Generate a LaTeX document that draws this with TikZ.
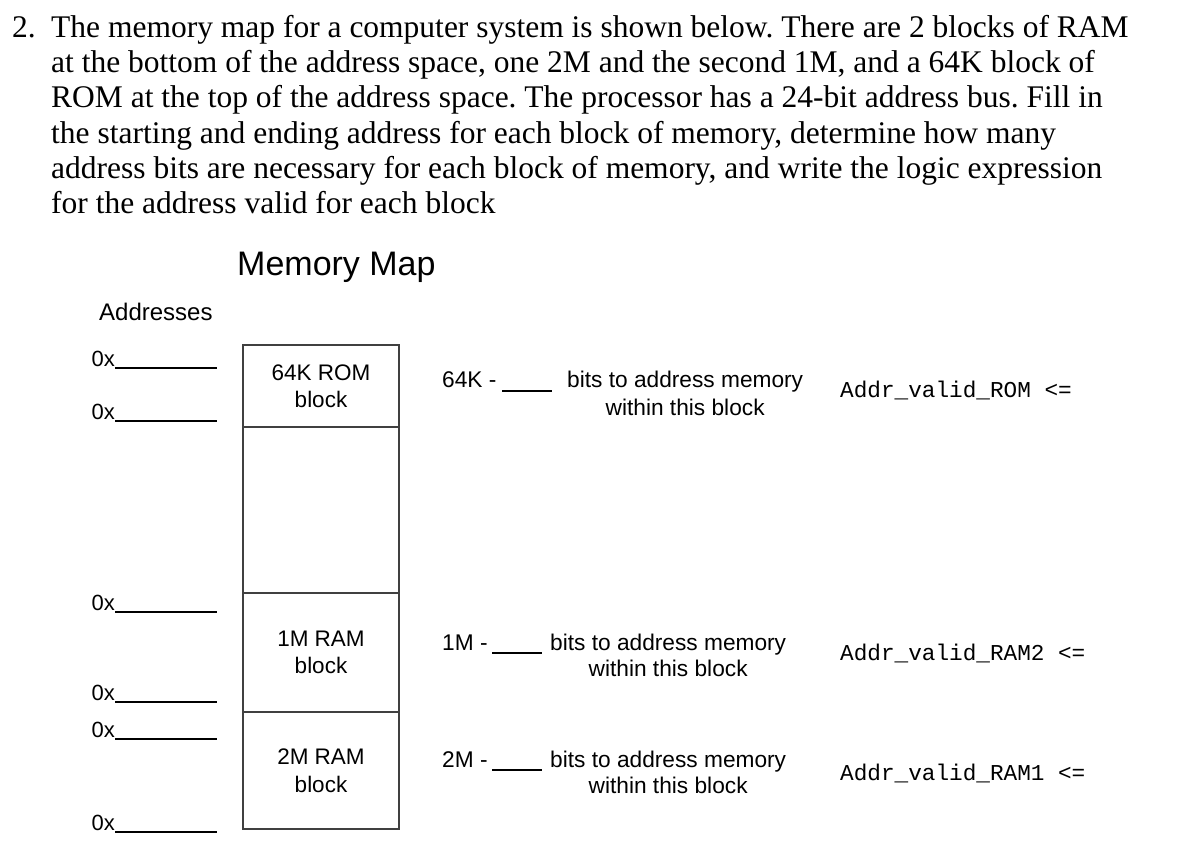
\documentclass[tikz,border=0pt]{standalone}
\usepackage{fontspec}
\setmainfont{Liberation Serif}
\newfontfamily\arialfont{Liberation Sans}
\setmonofont{Liberation Mono}
\usetikzlibrary{positioning}
\tikzset{blk/.style = {draw = black!75, line width = 1.5pt, outer sep = 0, minimum width = 156pt, inner sep = 0, align = center, font = \arialfont\fontsize{22.5}{27.5}\selectfont}}
\tikzset{addr/.style = {anchor = base east, inner sep = 0, font = \arialfont\fontsize{22}{24}\selectfont}}
\tikzset{note/.style = {anchor = base west, inner sep = 0, font = \arialfont\fontsize{22.7}{27}\selectfont}}
\tikzset{code/.style = {anchor = base west, inner sep = 0, font = \ttfamily\fontsize{22.7}{24}\selectfont}}
\tikzset{blank/.style = {line width = 1.3pt}}

\begin{document}
\frenchspacing
\begin{tikzpicture}[x = 1pt, y = -1pt]
      \useasboundingbox (0, 0) rectangle (1181, 865);

      \node[anchor = base west, inner sep = 0, font = \fontsize{31.5}{35.3}\selectfont] (num) at (12, 37) {2.};
      \node[anchor = north west, inner sep = 0, align = left, font = \fontsize{31.5}{35.3}\selectfont] (task) at (51, 15)
        {The memory map for a computer system is shown below. There are 2 blocks of RAM\\
         at the bottom of the address space, one 2M and the second 1M, and a 64K block of\\
         ROM at the top of the address space. The processor has a 24-bit address bus. Fill in\\
         the starting and ending address for each block of memory, determine how many\\
         address bits are necessary for each block of memory, and write the logic expression\\
         for the address valid for each block};

      \node[anchor = base west, inner sep = 0, font = \arialfont\fontsize{34}{36}\selectfont] (title) at (237, 275) {Memory Map};
      \node[anchor = base west, inner sep = 0, font = \arialfont\fontsize{24}{26}\selectfont] (addrs) at (99, 320) {Addresses};

      % memory blocks
      \node[blk, minimum height = 82pt, anchor = north west] (rom) at (243, 345) {64K ROM\\block};
      \node[blk, minimum height = 166pt, below = 0pt of rom] (free) {};
      \node[blk, minimum height = 119pt, below = 0pt of free] (ramtwo) {1M RAM\\block};
      \node[blk, minimum height = 117pt, below = 0pt of ramtwo] (ramone) {2M RAM\\block};

      % address blanks
      \node[addr] (a1) at (115, 366) {0x};
      \node[addr] (a2) at (115, 419) {0x};
      \node[addr] (a3) at (115, 610) {0x};
      \node[addr] (a4) at (115, 700) {0x};
      \node[addr] (a5) at (115, 737) {0x};
      \node[addr] (a6) at (115, 830) {0x};
      \foreach \a in {a1, a2, a3, a4, a5, a6}
        \draw[blank] ([yshift = -2pt] \a.base east) -- +(102, 0);

      % bit counts
      \node[note] (s1) at (442, 387) {64K -};
      \draw[blank] (502, 391) -- (552, 391);
      \node[note] (b1) at (567, 387) {bits to address memory};
      \node[note, anchor = base] (w1) at ([yshift = -28pt] b1.base) {within this block};

      \node[note] (s2) at (442, 650) {1M -};
      \draw[blank] (492, 653) -- (542, 653);
      \node[note] (b2) at (550, 650) {bits to address memory};
      \node[note, anchor = base] (w2) at ([yshift = -26pt] b2.base) {within this block};

      \node[note] (s3) at (442, 767) {2M -};
      \draw[blank] (492, 770) -- (542, 770);
      \node[note] (b3) at (550, 767) {bits to address memory};
      \node[note, anchor = base] (w3) at ([yshift = -26pt] b3.base) {within this block};

      % address valid
      \node[code] (v1) at (840, 397) {Addr\_valid\_ROM <=};
      \node[code] (v2) at (840, 660) {Addr\_valid\_RAM2 <=};
      \node[code] (v3) at (840, 780) {Addr\_valid\_RAM1 <=};
    \end{tikzpicture}
\end{document}
